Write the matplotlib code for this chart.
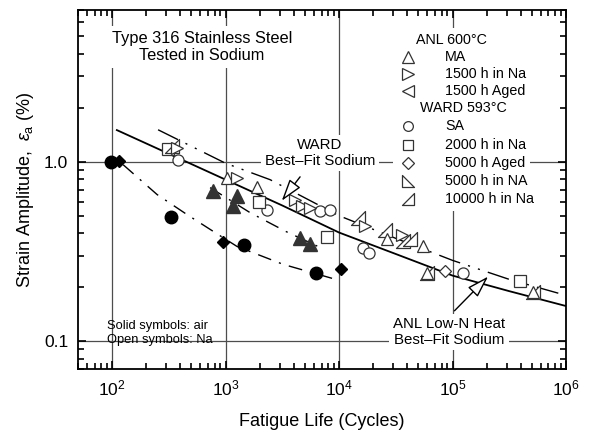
import matplotlib
matplotlib.use("Agg")
import matplotlib.pyplot as plt
from matplotlib.path import Path
from matplotlib.ticker import LogLocator, FixedLocator, FixedFormatter, NullFormatter

plt.rcParams['font.family'] = ['Liberation Sans', 'DejaVu Sans']
plt.rcParams['mathtext.fontset'] = 'custom'
plt.rcParams['mathtext.rm'] = 'Liberation Sans'
plt.rcParams['mathtext.it'] = 'Liberation Sans:italic'

# ---------------- data ----------------
# air (solid symbols)
air_circle_N = [98, 331, 1466, 6320]
air_circle_e = [0.99, 0.495, 0.343, 0.241]
air_diamond_N = [115, 944, 10350]
air_diamond_e = [1.01, 0.358, 0.251]
air_tri_N = [781, 1253, 1172, 4530, 5550]
air_tri_e = [0.684, 0.647, 0.565, 0.377, 0.346]

# ANL 600C (open symbols, sodium)
anl_ma_N = [1024, 1884, 26300, 54600, 59100, 515000]
anl_ma_e = [0.812, 0.723, 0.369, 0.339, 0.241, 0.187]
anl_1500na_N = [370, 1253, 4090, 4690, 5550, 16900, 35600]
anl_1500na_e = [1.19, 0.812, 0.615, 0.565, 0.553, 0.437, 0.393]
anl_1500aged_N = []
anl_1500aged_e = []

# WARD 593C (open symbols, sodium)
ward_sa_N = [384, 2306, 6800, 8340, 16400, 18500, 124000]
ward_sa_e = [1.017, 0.541, 0.53, 0.537, 0.332, 0.311, 0.241]
ward_2000na_N = [313, 1986, 7890, 394000]
ward_2000na_e = [1.18, 0.594, 0.382, 0.216]
ward_5000aged_N = [85900]
ward_5000aged_e = [0.246]
ward_5000NA_N = []
ward_5000NA_e = []
ward_10000na_N = [340, 14800, 25400, 36800, 42200, 59100, 515000]
ward_10000na_e = [1.22, 0.487, 0.419, 0.361, 0.369, 0.241, 0.187]

# best-fit curves
ward_fit_N = [110, 316, 1000, 3162, 10000, 31623, 100000, 316228, 1000000]
ward_fit_e = [1.5, 1.107, 0.794, 0.57, 0.403, 0.306, 0.232, 0.19, 0.157]
anl_fit_N = [254, 1000, 2466, 10000, 31623, 100000, 316228, 1000000]
anl_fit_e = [1.506, 0.98, 0.794, 0.50, 0.374, 0.282, 0.221, 0.18]
anl_air_N = [730, 1644, 3412, 6800]
anl_air_e = [0.717, 0.52, 0.408, 0.333]
ward_air_N = [125, 249, 458, 807, 1262, 3213, 8670]
ward_air_e = [0.962, 0.656, 0.507, 0.403, 0.337, 0.268, 0.224]

x_major = [1e2, 1e3, 1e4, 1e5, 1e6]
x_labels = ['10$^2$', '10$^3$', '10$^4$', '10$^5$', '10$^6$']
y_major = [0.1, 1.0]
y_labels = ['0.1', '1.0']

legend_groups = [
    ('ANL 600°C', [('^', 'MA'), ('>', '1500 h in Na'), ('<', '1500 h Aged')]),
    ('WARD 593°C', [('o', 'SA'), ('s', '2000 h in Na'), ('D', '5000 h Aged'),
                    ('rt1', '5000 h in NA'), ('rt2', '10000 h in Na')]),
]

# ---------------- figure ----------------
W, H = 593, 437
fig = plt.figure(figsize=(W / 100, H / 100), dpi=100)
L, R, T, B = 78, 566, 10, 369
ax = fig.add_axes([L / W, 1 - B / H, (R - L) / W, (B - T) / H])
ax.set_xscale('log')
ax.set_yscale('log')
ax.set_xlim(50, 1e6)
ax.set_ylim(0.07, 7)

def fx(px):
    return (px - L) / (R - L)

def fy(py):
    return (B - py) / (B - T)

# custom right-triangle markers
rt1 = Path([(-1, 1), (-1, -1), (1, -1), (-1, 1)], [1, 2, 2, 79])
rt2 = Path([(1, 1), (1, -1), (-1, -1), (1, 1)], [1, 2, 2, 79])
mk = {'rt1': rt1, 'rt2': rt2}

grid_c = '0.3'
for xv in [1e2, 1e3, 1e4, 1e5]:
    ax.axvline(xv, color=grid_c, lw=0.9, zorder=0.5)
for yv in [0.1, 1.0]:
    ax.axhline(yv, color=grid_c, lw=0.9, zorder=0.5)

# curves
ax.plot(ward_fit_N, ward_fit_e, color='black', lw=1.3, zorder=2)
ax.plot(anl_fit_N, anl_fit_e, color='black', lw=1.0,
        linestyle=(0, (16, 6, 1.5, 6, 1.5, 6)), zorder=2)
ax.plot(anl_air_N, anl_air_e, color='black', lw=1.0,
        linestyle=(0, (10, 6, 1.5, 6)), zorder=2)
ax.plot(ward_air_N, ward_air_e, color='black', lw=1.0,
        linestyle=(0, (10, 6, 1.5, 6)), zorder=2)

def open_pts(N, e, m, ms=9):
    if N:
        ax.plot(N, e, linestyle='none', marker=mk.get(m, m), ms=ms,
                mfc='white', mec='#333333', mew=0.9, zorder=3)

open_pts(ward_sa_N, ward_sa_e, 'o', 8)
open_pts(ward_2000na_N, ward_2000na_e, 's', 8)
open_pts(ward_5000aged_N, ward_5000aged_e, 'D', 6.5)
open_pts(ward_5000NA_N, ward_5000NA_e, 'rt1', 9.5)
open_pts(ward_10000na_N, ward_10000na_e, 'rt2', 9.5)
open_pts(anl_ma_N, anl_ma_e, '^', 9)
open_pts(anl_1500na_N, anl_1500na_e, '>', 9)
open_pts(anl_1500aged_N, anl_1500aged_e, '<', 9)

ax.plot(air_circle_N, air_circle_e, linestyle='none', marker='o', ms=9,
        mfc='black', mec='black', zorder=4)
ax.plot(air_diamond_N, air_diamond_e, linestyle='none', marker='D', ms=6.5,
        mfc='black', mec='black', zorder=4)
ax.plot(air_tri_N, air_tri_e, linestyle='none', marker='^', ms=9.5,
        mfc='#333333', mec='#333333', zorder=4)

# ticks
ax.xaxis.set_major_locator(FixedLocator(x_major))
ax.xaxis.set_major_formatter(FixedFormatter(x_labels))
ax.xaxis.set_minor_locator(LogLocator(base=10, subs=range(2, 10), numticks=20))
ax.xaxis.set_minor_formatter(NullFormatter())
ax.yaxis.set_major_locator(FixedLocator(y_major))
ax.yaxis.set_major_formatter(FixedFormatter(y_labels))
ax.yaxis.set_minor_locator(LogLocator(base=10, subs=range(2, 10), numticks=20))
ax.yaxis.set_minor_formatter(NullFormatter())
ax.tick_params(which='both', direction='in', top=True, right=True,
               color='black', width=1.2)
ax.tick_params(which='major', length=6, labelsize=12.5, pad=7)
ax.tick_params(which='minor', length=4)
for s in ax.spines.values():
    s.set_linewidth(1.3)

ax.set_xlabel('Fatigue Life (Cycles)', fontsize=13, labelpad=10)
ax.set_ylabel('Strain Amplitude,  $\\varepsilon_{\\rm a}$ (%)', fontsize=13, labelpad=6)

# title text with white box
ax.text(fx(202), fy(47), 'Type 316 Stainless Steel\nTested in Sodium',
        transform=ax.transAxes, ha='center', va='center', fontsize=11.8,
        linespacing=1.15, zorder=5,
        bbox=dict(boxstyle='square,pad=0.3', fc='white', ec='none'))

# legend (manual)
ax.add_patch(plt.Rectangle((fx(393), fy(211)), fx(530) - fx(393), fy(28) - fy(211),
                           transform=ax.transAxes, fc='white', ec='none', zorder=5))
rows_y = [40, 57, 74, 91, 108, 126, 145, 163, 181, 199]
i = 0
for header, items in legend_groups:
    hx = 416 if i == 0 else 420
    ax.text(fx(hx), fy(rows_y[i]), header, transform=ax.transAxes,
            ha='left', va='center', fontsize=10.3, zorder=6)
    i += 1
    for m, lab in items:
        ms = {'o': 7, 's': 7.5, 'D': 6, 'rt1': 8.5, 'rt2': 8.5}.get(m, 8.5)
        ax.plot([fx(408)], [fy(rows_y[i])], transform=ax.transAxes,
                marker=mk.get(m, m), ms=ms, mfc='white', mec='#333333',
                mew=0.9, linestyle='none', zorder=6, clip_on=False)
        ax.text(fx(445), fy(rows_y[i]), lab, transform=ax.transAxes,
                ha='left', va='center', fontsize=10.3, zorder=6)
        i += 1

arrow_style = dict(arrowstyle='-|>,head_length=0.9,head_width=0.28',
                   fc='white', ec='black', lw=1.0, mutation_scale=15)

# WARD label + arrow
ax.text(fx(320), fy(153), 'WARD\nBest\u2013Fit Sodium', transform=ax.transAxes,
        ha='center', va='center', fontsize=10.8, linespacing=1.1, zorder=5,
        bbox=dict(boxstyle='square,pad=0.25', fc='white', ec='none'))
ax.annotate('', xy=(3020, 0.589), xytext=(4690, 0.847),
            arrowprops=arrow_style, zorder=6)

# ANL label + arrow
ax.text(fx(449), fy(332), 'ANL Low-N Heat\nBest\u2013Fit Sodium', transform=ax.transAxes,
        ha='center', va='center', fontsize=10.8, linespacing=1.1, zorder=5,
        bbox=dict(boxstyle='square,pad=0.25', fc='white', ec='none'))
ax.annotate('', xy=(214000, 0.235), xytext=(1e5, 0.144),
            arrowprops=arrow_style, zorder=6)

ax.text(fx(107), fy(333), 'Solid symbols: air\nOpen symbols: Na', transform=ax.transAxes,
        ha='left', va='center', fontsize=9.3, linespacing=1.2, zorder=5)

fig.savefig('out.png', dpi=100)
